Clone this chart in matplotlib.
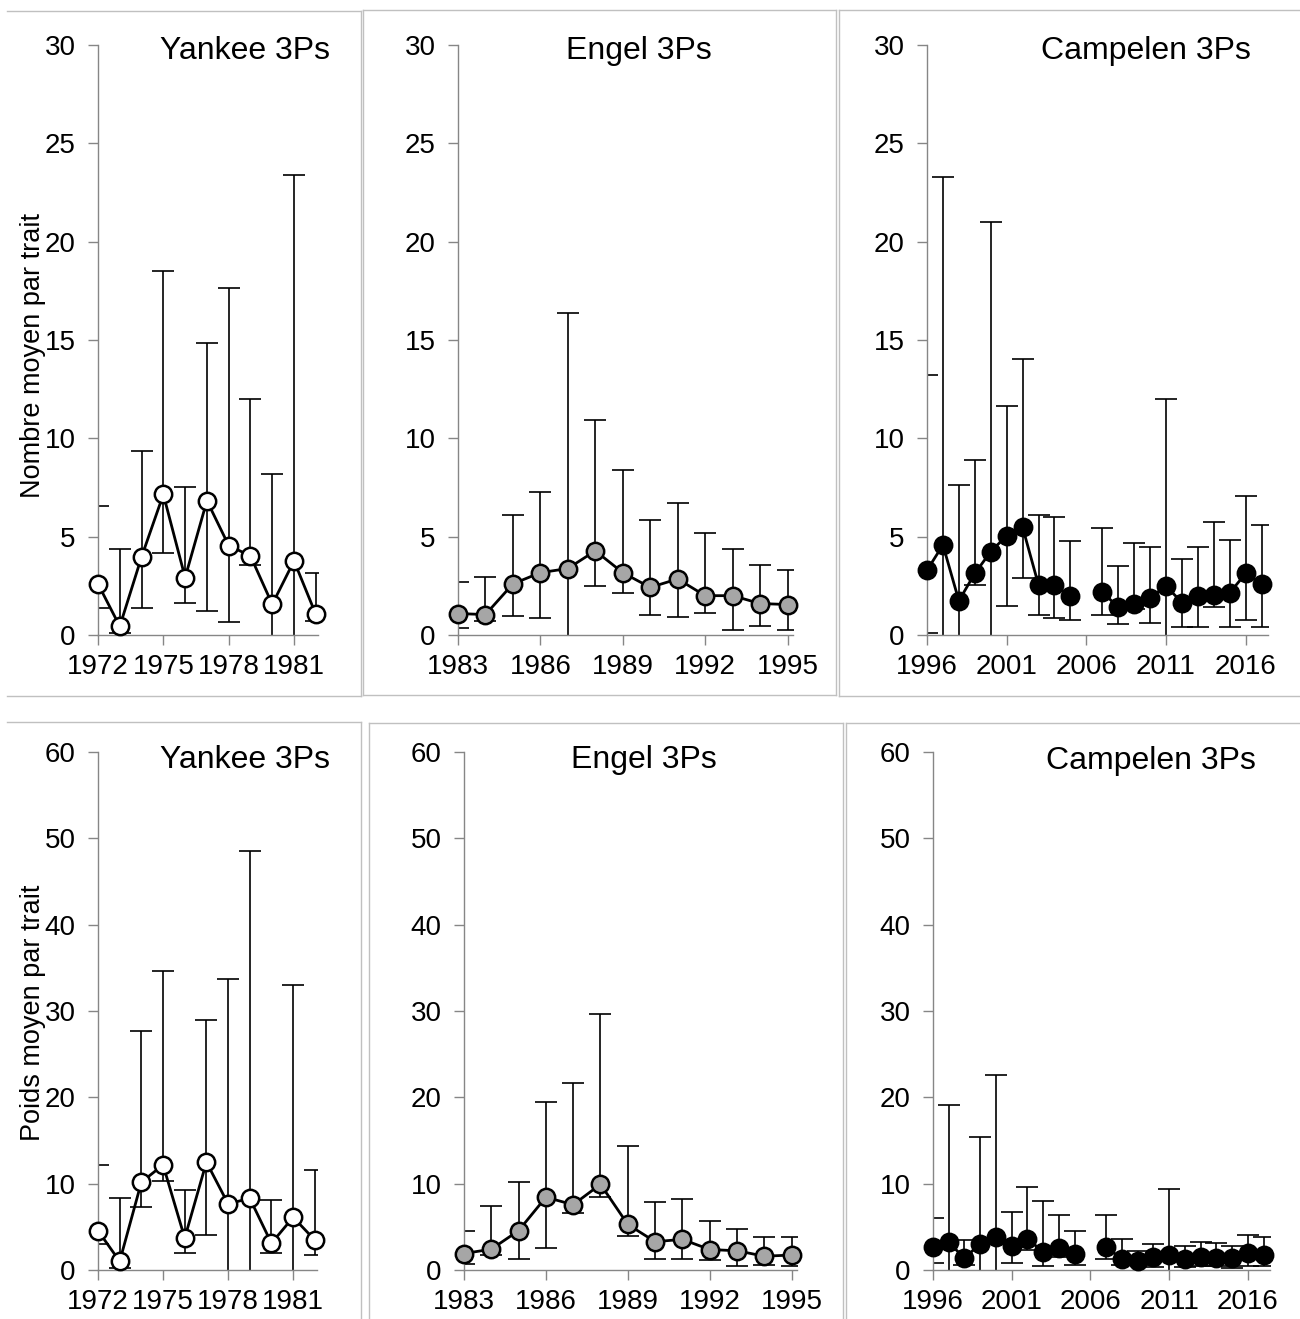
import numpy as np
import matplotlib.pyplot as plt
from matplotlib.lines import Line2D

plt.rcParams['font.family'] = ['Liberation Sans', 'DejaVu Sans']

W, H = 1300, 1319

# ---- data (mean, upper and lower limits) ----
yankee_years = list(range(1972, 1983))
yankee_n = [2.6, 0.44, 3.97, 7.15, 2.92, 6.83, 4.55, 4.02, 1.56, 3.77, 1.05]
yankee_n_hi = [6.56, 4.39, 9.36, 18.5, 7.52, 14.87, 17.65, 12.0, 8.17, 23.4, 3.14]
yankee_n_lo = [1.36, 0.1, 1.36, 4.15, 1.61, 1.24, 0.64, 3.58, -2, -2, 0.7]
yankee_w = [4.56, 1.0, 10.17, 12.18, 3.7, 12.5, 7.66, 8.3, 3.1, 6.11, 3.47]
yankee_w_hi = [12.18, 8.35, 27.7, 34.6, 9.26, 28.97, 33.7, 48.5, 8.07, 33.0, 11.6]
yankee_w_lo = [3.06, 0.2, 7.35, 10.36, 1.92, 4.1, -4, -4, 1.92, -4, 1.78]

engel_years = list(range(1983, 1996))
engel_n = [1.09, 1.04, 2.6, 3.17, 3.38, 4.28, 3.17, 2.42, 2.85, 2.0, 2.0, 1.6, 1.55]
engel_n_hi = [2.72, 2.97, 6.1, 7.25, 16.36, 10.92, 8.4, 5.85, 6.7, 5.2, 4.37, 3.56, 3.3]
engel_n_lo = [0.34, 0.7, 0.95, 0.88, -2, 2.49, 2.15, 1.04, 0.9, 1.1, 0.25, 0.48, 0.25]
engel_w = [1.91, 2.41, 4.56, 8.43, 7.56, 9.93, 5.28, 3.28, 3.55, 2.37, 2.23, 1.6, 1.73]
engel_w_hi = [4.46, 7.47, 10.25, 19.45, 21.7, 29.6, 14.4, 7.88, 8.2, 5.7, 4.78, 3.78, 3.78]
engel_w_lo = [0.68, 1.7, 1.32, 2.5, 6.6, 8.5, 3.96, 1.32, 1.32, 1.14, 0.41, 0.6, 0.41]

nan = np.nan
campelen_years = list(range(1996, 2018))
campelen_n = [3.29, 4.58, 1.74, 3.13, 4.24, 5.05, 5.48, 2.54, 2.54, 1.97, nan,
              2.2, 1.4, 1.56, 1.9, 2.49, 1.65, 1.97, 2.05, 2.15, 3.13, 2.58]
campelen_n_hi = [13.2, 23.27, 7.64, 8.88, 21.0, 11.65, 14.05, 6.1, 5.98, 4.76, nan,
                 5.46, 3.51, 4.69, 4.5, 11.99, 3.87, 4.5, 5.76, 4.83, 7.05, 5.6]
campelen_n_lo = [0.1, -2, -2, 2.54, -2, 1.45, 2.88, 1.03, 0.85, 0.77, nan,
                 1.03, 0.54, 1.3, 0.63, -2, 0.43, 0.43, 1.4, 0.39, 0.77, 0.39]
campelen_w = [2.64, 3.19, 1.37, 3.05, 3.78, 2.82, 3.6, 2.1, 2.55, 1.91, nan,
              2.64, 1.28, 1.0, 1.46, 1.73, 1.28, 1.46, 1.37, 1.37, 2.0, 1.78]
campelen_w_hi = [5.97, 19.13, 3.42, 15.44, 22.55, 6.74, 9.6, 8.0, 6.42, 4.46, nan,
                 6.42, 3.64, 2.23, 2.96, 9.34, 2.78, 3.28, 3.1, 2.82, 4.05, 3.87]
campelen_w_lo = [0.77, -4, 0.55, -4, -4, 0.77, 2.28, 0.41, 1.55, 0.55, nan,
                 1.32, 0.6, 0.6, 0.3, -4, 0.3, 0.45, 0.5, 0.27, 0.41, 0.41]

titles = ['Yankee 3Ps', 'Engel 3Ps', 'Campelen 3Ps']
ylabels = ['Nombre moyen par trait', 'Poids moyen par trait']
face_colors = ['white', '#a6a6a6', 'black']


def px_rect(x0, x1, y0, y1):
    return [x0 / W, 1 - y1 / H, (x1 - x0) / W, (y1 - y0) / H]


fig = plt.figure(figsize=(W / 100, H / 100), dpi=100)

# panel frames
frame_col = '#c0c0c0'
segs = [
    ((7, 361), (11, 11)), ((7, 361), (696, 696)), ((361, 361), (11, 696)),
    ((363, 836), (10, 10)), ((363, 836), (695, 695)), ((363, 363), (10, 695)), ((836, 836), (10, 695)),
    ((839, 1300), (10, 10)), ((839, 1300), (696, 696)), ((839, 839), (10, 696)),
    ((7, 361), (722, 722)), ((361, 361), (722, 1319)),
    ((369, 843), (723, 723)), ((369, 369), (723, 1319)), ((843, 843), (723, 1319)),
    ((846, 1300), (723, 723)), ((846, 846), (723, 1319)),
]
for xs, ys in segs:
    fig.add_artist(Line2D([x / W for x in xs], [1 - y / H for y in ys], color=frame_col, lw=1))

panels = [
    # (rect px, years, mean, hi, lo, xlim, xticks, ymax, ystep, style idx)
    ((98, 318, 45, 635), yankee_years, yankee_n, yankee_n_hi, yankee_n_lo, (1972, 1982.1), [1972, 1975, 1978, 1981], 30, 5, 0),
    ((458, 793, 45, 635), engel_years, engel_n, engel_n_hi, engel_n_lo, (1983, 1995.2), [1983, 1986, 1989, 1992, 1995], 30, 5, 1),
    ((927, 1268, 45, 635), campelen_years, campelen_n, campelen_n_hi, campelen_n_lo, (1996, 2017.4), [1996, 2001, 2006, 2011, 2016], 30, 5, 2),
    ((98, 317, 752, 1270), yankee_years, yankee_w, yankee_w_hi, yankee_w_lo, (1972, 1982.1), [1972, 1975, 1978, 1981], 60, 10, 0),
    ((464, 797, 752, 1270), engel_years, engel_w, engel_w_hi, engel_w_lo, (1983, 1995.2), [1983, 1986, 1989, 1992, 1995], 60, 10, 1),
    ((933, 1270, 752, 1270), campelen_years, campelen_w, campelen_w_hi, campelen_w_lo, (1996, 2017.4), [1996, 2001, 2006, 2011, 2016], 60, 10, 2),
]

axis_col = '#868686'
for (x0, x1, y0, y1), yrs, m, hi, lo, xl, xt, ymax, ystep, k in panels:
    ax = fig.add_axes(px_rect(x0, x1, y0, y1))
    yrs = np.array(yrs)
    m = np.array(m, dtype=float)
    hi = np.array(hi, dtype=float)
    lo = np.array(lo, dtype=float)
    ax.errorbar(yrs, m, yerr=[m - lo, hi - m], fmt='none', ecolor='black',
                elinewidth=1.2, capsize=8, capthick=1.2, zorder=1)
    ax.plot(yrs, m, color='black', lw=2, marker='o', ms=12.5, mfc=face_colors[k],
            mec='black', mew=1.8, zorder=3, clip_on=False)
    ax.set_xlim(*xl)
    ax.set_ylim(0, ymax)
    ax.set_xticks(xt)
    ax.set_yticks(np.arange(0, ymax + 1, ystep))
    for s in ['top', 'right']:
        ax.spines[s].set_visible(False)
    for s in ['left', 'bottom']:
        ax.spines[s].set_color(axis_col)
        ax.spines[s].set_linewidth(1)
    ax.tick_params(direction='out', length=7, width=1, color=axis_col,
                   labelsize=20, pad=7)
    ax.tick_params(axis='y', pad=9)

# titles and axis labels
title_pos = [(245, 51), (639, 51), (1146, 51), (245, 760), (644, 760), (1151, 761)]
for i, (tx, ty) in enumerate(title_pos):
    fig.text(tx / W, 1 - ty / H, titles[i % 3], fontsize=23, ha='center', va='center')

fig.text(33 / W, 1 - 355 / H, ylabels[0], fontsize=19.5, rotation=90, ha='center', va='center')
fig.text(33 / W, 1 - 1013 / H, ylabels[1], fontsize=19.5, rotation=90, ha='center', va='center')

fig.savefig('out.png', dpi=100, facecolor='white')
plt.close()
